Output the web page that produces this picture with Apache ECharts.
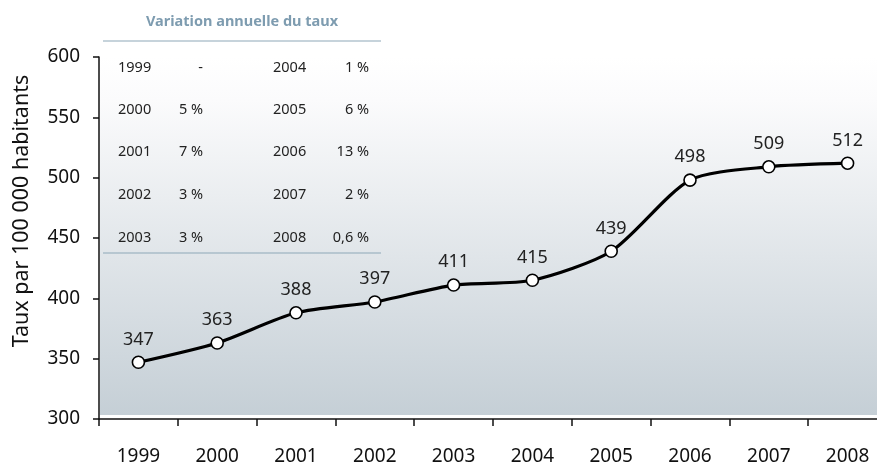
<!DOCTYPE html>
<html>
<head>
<meta charset="utf-8">
<script src="https://cdn.jsdelivr.net/npm/echarts@6/dist/echarts.min.js"></script>
<style>
html,body{margin:0;padding:0;background:#fff;overflow:hidden;width:877px;height:466px;}
#chart{width:887px;height:466px;}
</style>
</head>
<body>
<div id="chart"></div>
<script>
var years = ['1999','2000','2001','2002','2003','2004','2005','2006','2007','2008'];
var rates = [347, 363, 388, 397, 411, 415, 439, 498, 509, 512];
var yMin = 300, yMax = 600, yStep = 50;
var yAxisTitle = 'Taux par 100 000 habitants';
var tableTitle = 'Variation annuelle du taux';
var tableYears = ['1999','2000','2001','2002','2003','2004','2005','2006','2007','2008'];
var tableChanges = ['-','5 %','7 %','3 %','3 %','1 %','6 %','13 %','2 %','0,6 %'];

var FONT = '"Noto Sans", sans-serif';
var chart = echarts.init(document.getElementById('chart'), null, {renderer:'canvas'});

var graphics = [
  {type:'rect', z:-100, silent:true, shape:{x:100, y:57, width:787, height:358},
   style:{fill:new echarts.graphic.LinearGradient(0,0,0,1,[
     {offset:0,color:'#ffffff'},{offset:0.12,color:'#fbfbfc'},{offset:1,color:'#c5cfd6'}])}},
  {type:'text', style:{text:tableTitle, x:242, y:22, align:'center', verticalAlign:'middle',
    font:'bold 14.5px ' + FONT, fill:'#7e9cb0'}},
  {type:'line', shape:{x1:103,y1:41,x2:381,y2:41}, style:{stroke:'#8ea8b8', lineWidth:1.2}},
  {type:'line', shape:{x1:103,y1:253,x2:381,y2:253}, style:{stroke:'#8ea8b8', lineWidth:1.2}}
];
var rowY = [68, 110, 152, 195, 238];
for (var i = 0; i < tableYears.length; i++) {
  var col = Math.floor(i / 5), row = i % 5;
  var yx = col === 0 ? 118 : 273;
  var vx = col === 0 ? 203 : 369;
  graphics.push({type:'text', style:{text:tableYears[i], x:yx, y:rowY[row], align:'left', verticalAlign:'middle',
    font:'14.5px ' + FONT, fill:'#222'}});
  graphics.push({type:'text', style:{text:tableChanges[i], x:vx, y:rowY[row], align:'right', verticalAlign:'middle',
    font:'14.5px ' + FONT, fill:'#222'}});
}

chart.setOption({
  animation:false,
  backgroundColor:'#ffffff',
  grid:{left:99, right:0, top:57, bottom:47, containLabel:false},
  xAxis:{
    type:'category', data:years, boundaryGap:true,
    axisLine:{lineStyle:{color:'#111', width:1.5}},
    axisTick:{show:true, length:7, interval:0, lineStyle:{color:'#111', width:1.5}},
    axisLabel:{color:'#111', fontSize:19, fontFamily:FONT, margin:28, interval:0}
  },
  yAxis:{
    type:'value', min:yMin, max:yMax, interval:yStep,
    name:yAxisTitle, nameLocation:'middle', nameGap:66, nameRotate:90,
    nameTextStyle:{color:'#111', fontSize:21.5, fontFamily:FONT, padding:[0,0,0,54]},
    axisLine:{show:true, lineStyle:{color:'#111', width:1.5}},
    axisTick:{show:true, length:6, lineStyle:{color:'#111', width:1.5}},
    axisLabel:{color:'#111', fontSize:19, fontFamily:FONT, margin:19},
    splitLine:{show:false}
  },
  graphic:graphics,
  series:[{
    type:'line', data:rates, smooth:0.25,
    symbol:'circle', symbolSize:12,
    lineStyle:{color:'#000', width:3.2},
    itemStyle:{color:'#fff', borderColor:'#000', borderWidth:1.6},
    label:{show:true, position:'top', distance:7, color:'#222', fontSize:18, fontFamily:FONT},
    z:5
  }]
});
</script>
</body>
</html>
